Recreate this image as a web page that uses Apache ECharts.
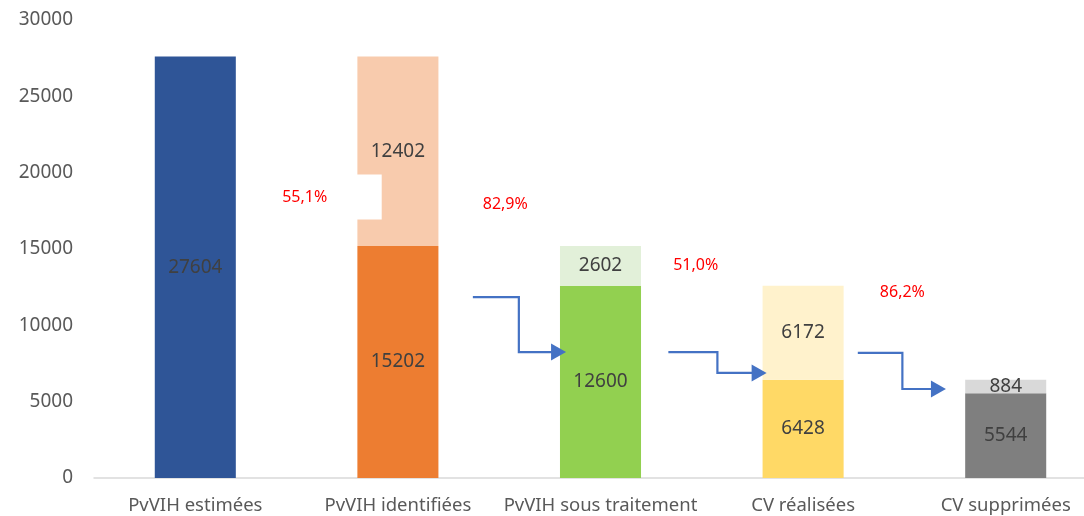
<!DOCTYPE html>
<html><head><meta charset="utf-8">
<script src="https://cdn.jsdelivr.net/npm/echarts@6/dist/echarts.min.js"></script>
<style>html,body{margin:0;padding:0;background:#fff;overflow:hidden}#c{width:1108px;height:516px}</style>
</head><body><div id="c"></div>
<script>
const categories = ['PvVIH estimées','PvVIH identifiées','PvVIH sous traitement','CV réalisées','CV supprimées'];
const baseValues = [27604, 15202, 12600, 6428, 5544];
const gapValues = [null, 12402, 2602, 6172, 884];
const baseColors = ['#2F5597','#ED7D31','#92D050','#FFD966','#7F7F7F'];
const gapColors = [null,'#F8CBAD','#E2F0D9','#FFF2CC','#D9D9D9'];
const ratioLabels = ['55,1%','82,9%','51,0%','86,2%'];
// label anchor: [category position, value]
const ratioAnchor = [[0.54,18400],[1.53,17950],[2.47,13950],[3.49,12180]];
// arrows: [start cat pos, start value, elbow cat pos, end value, tip cat pos]
const arrows = [
  [1.37, 11850, 1.597, 8250, 1.83],
  [2.335, 8250, 2.577, 6880, 2.82],
  [3.27, 8190, 3.49, 5830, 3.705]
];
const yMin = 0, yMax = 30000, yStep = 5000;

const FONT = 'Noto Sans';
function px(api, x, v){
  const i = Math.floor(x);
  const p = api.coord([i, v]);
  const band = api.size([1, 0])[0];
  return [p[0] + (x - i) * band, p[1]];
}

const chart = echarts.init(document.getElementById('c'), null, {renderer:'canvas'});
chart.setOption({
  animation:false,
  backgroundColor:'#fff',
  grid:{left:94, top:20, right:1, height:458, containLabel:false},
  xAxis:{type:'category', data:categories,
    axisLine:{lineStyle:{color:'#D9D9D9', width:1.5}},
    axisTick:{show:false},
    axisLabel:{color:'#595959', fontSize:18.5, fontFamily:FONT, margin:18, interval:0}},
  yAxis:{type:'value', min:yMin, max:yMax, interval:yStep,
    splitLine:{show:false}, axisLine:{show:false}, axisTick:{show:false},
    axisLabel:{color:'#595959', fontSize:19, fontFamily:FONT, margin:21, formatter:v=>String(v)}},
  series:[
    {type:'bar', stack:'s', barCategoryGap:'60%',
      data: baseValues.map((v,i)=>({value:v, itemStyle:{color:baseColors[i]}})),
      label:{show:true, position:'inside', color:'#404040', fontSize:19, fontFamily:FONT}},
    {type:'bar', stack:'s', barCategoryGap:'60%',
      data: gapValues.map((v,i)=>({value:v, itemStyle:{color:gapColors[i] || '#fff'}})),
      label:{show:true, position:'inside', color:'#404040', fontSize:19, fontFamily:FONT}},
    {type:'custom', z:5, silent:true,
      data: arrows.map(a=>[Math.floor(a[0]), a[1]]),
      renderItem:function(params, api){
        const a = arrows[params.dataIndex];
        const s = px(api, a[0], a[1]);
        const m1 = px(api, a[2], a[1]);
        const m2 = px(api, a[2], a[3]);
        const t = px(api, a[4], a[3]);
        const hl = 15, hw = 8.5;
        return {type:'group', children:[
          {type:'polyline', shape:{points:[s, m1, m2, [t[0]-hl+2, t[1]]]},
            style:{stroke:'#4472C4', lineWidth:2.2, fill:null}},
          {type:'polygon', shape:{points:[[t[0], t[1]], [t[0]-hl, t[1]-hw], [t[0]-hl, t[1]+hw]]},
            style:{fill:'#4472C4'}}
        ]};
      }},
    {type:'custom', z:6, silent:true,
      data: ratioAnchor.map(a=>[Math.floor(a[0]), a[1]]),
      renderItem:function(params, api){
        const a = ratioAnchor[params.dataIndex];
        const p = px(api, a[0], a[1]);
        const children = [];
        if (params.dataIndex === 0) {
          children.push({type:'rect', shape:{x:p[0]-60, y:p[1]-22.5, width:137, height:45}, style:{fill:'#fff'}});
        }
        children.push({type:'text', x:p[0], y:p[1], style:{text:ratioLabels[params.dataIndex], fill:'#FF0000',
          fontSize:16, fontFamily:FONT, align:'center', verticalAlign:'middle'}});
        return {type:'group', children:children};
      }}
  ]
});
</script></body></html>
